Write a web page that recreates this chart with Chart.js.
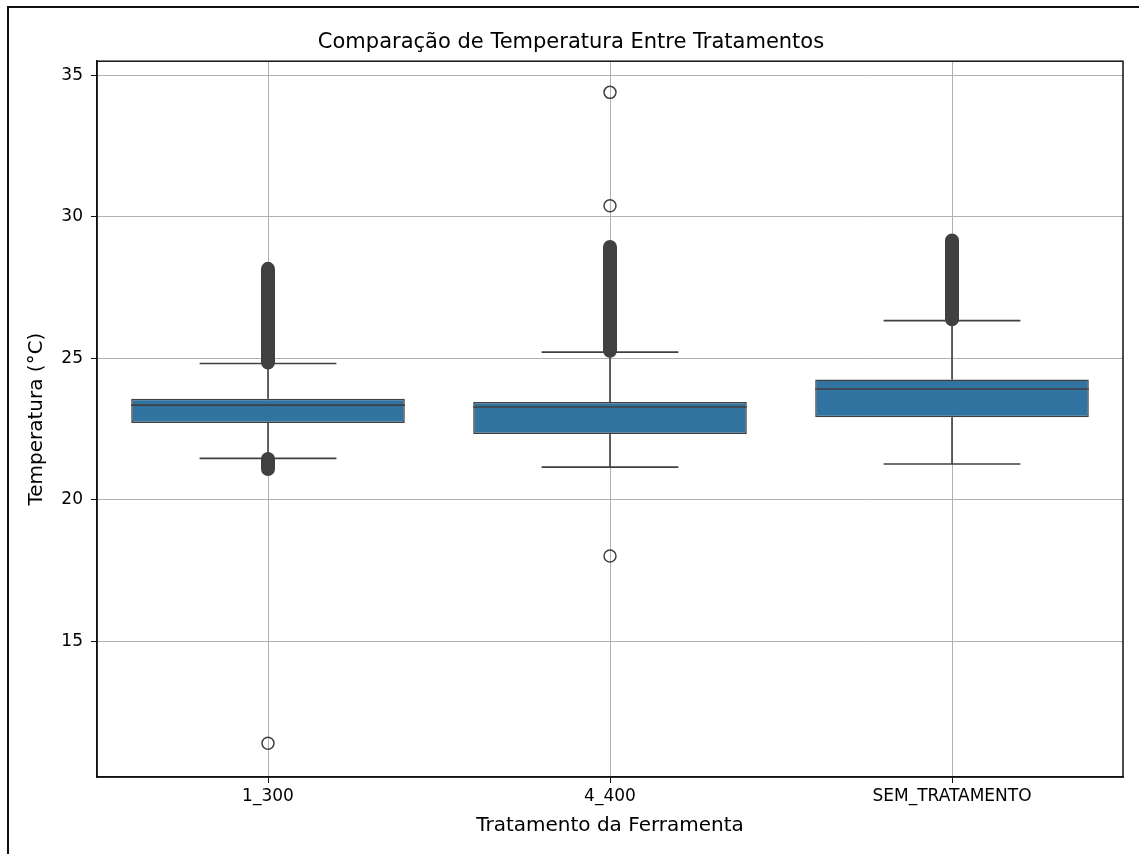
<!DOCTYPE html>
<html>
<head>
<meta charset="utf-8">
<script src="https://cdn.jsdelivr.net/npm/chart.js@4.4.1/dist/chart.umd.min.js"></script>
<style>
  body { margin: 0; background: #fff; }
  #wrap { position: relative; width: 1139px; height: 854px; overflow: hidden; }
  #frame { position: absolute; left: 7px; top: 6px; right: -10px; bottom: -10px;
           border-left: 2px solid #111; border-top: 2px solid #111; pointer-events: none; }
  canvas { position: absolute; left: 0; top: 0; }
</style>
</head>
<body>
<div id="wrap">
  <canvas id="chart" width="1139" height="854"></canvas>
  <div id="frame"></div>
</div>
<script>
"use strict";

// box plot summary per treatment
const categories = ["1_300", "4_400", "SEM_TRATAMENTO"];
const q1 = [22.72, 22.33, 22.92];
const medians = [23.35, 23.28, 23.92];
const q3 = [23.57, 23.46, 24.25];
const whisker_low = [21.47, 21.16, 21.27];
const whisker_high = [24.82, 25.22, 26.33];

// single outliers (category index, value)
const outlier_cat = [0, 1, 1, 1];
const outlier_val = [11.41, 34.39, 30.39, 18.02];

// dense runs of overlapping outliers (category index, lowest, highest)
const run_cat = [0, 0, 1, 2];
const run_low = [24.85, 21.09, 25.27, 26.38];
const run_high = [28.16, 21.45, 28.93, 29.16];

const y_ticks = [15, 20, 25, 30, 35];

const box_colour = "#3274a1";
const line_colour = "#404040";

Chart.defaults.font.family = "'DejaVu Sans', sans-serif";
Chart.defaults.color = "#000";

function gap(i) {
    return {x: i, y: null};
}

let median_pts = [];
let whisker_pts = [];
categories.forEach((c, i) => {
    median_pts.push({x: i - 0.4, y: medians[i]}, {x: i + 0.4, y: medians[i]}, gap(i));
    whisker_pts.push({x: i, y: q3[i]}, {x: i, y: whisker_high[i]}, gap(i));
    whisker_pts.push({x: i, y: q1[i]}, {x: i, y: whisker_low[i]}, gap(i));
    whisker_pts.push({x: i - 0.2, y: whisker_high[i]}, {x: i + 0.2, y: whisker_high[i]}, gap(i));
    whisker_pts.push({x: i - 0.2, y: whisker_low[i]}, {x: i + 0.2, y: whisker_low[i]}, gap(i));
});

let run_pts = [];
run_cat.forEach((c, k) => {
    run_pts.push({x: c, y: run_low[k]}, {x: c, y: run_high[k]}, gap(c));
});

let outlier_pts = outlier_cat.map((c, k) => ({x: c, y: outlier_val[k]}));

// matplotlib style spines on all four sides
const frame_plugin = {
    id: "frame_plugin",
    afterDraw(chart) {
        const a = chart.chartArea;
        const ctx = chart.ctx;
        ctx.save();
        ctx.strokeStyle = "#111";
        ctx.lineWidth = 1.5;
        ctx.strokeRect(a.left, a.top, a.right - a.left, a.bottom - a.top);
        ctx.restore();
    }
};

let ctx = document.getElementById("chart").getContext("2d");
window.box_chart = new Chart(ctx, {
    type: "line",
    data: {
        datasets: [
            {
                type: "bar",
                label: "box",
                data: categories.map((c, i) => ({x: i, y: [q1[i], q3[i]]})),
                backgroundColor: box_colour,
                borderColor: line_colour,
                borderWidth: 1.5,
                borderSkipped: false,
                barPercentage: 0.8,
                categoryPercentage: 1.0,
                grouped: false,
                order: 4
            },
            {
                label: "whiskers",
                data: whisker_pts,
                borderColor: line_colour,
                borderWidth: 1.6,
                pointRadius: 0,
                spanGaps: false,
                order: 3
            },
            {
                label: "median",
                data: median_pts,
                borderColor: line_colour,
                borderWidth: 1.6,
                pointRadius: 0,
                spanGaps: false,
                order: 1
            },
            {
                label: "outlier runs",
                data: run_pts,
                borderColor: line_colour,
                borderWidth: 14,
                borderCapStyle: "round",
                pointRadius: 0,
                spanGaps: false,
                order: 2
            },
            {
                label: "outliers",
                data: outlier_pts,
                showLine: false,
                pointRadius: 6,
                pointBorderWidth: 1.5,
                pointBorderColor: line_colour,
                pointBackgroundColor: "rgba(0,0,0,0)",
                order: 0
            }
        ]
    },
    options: {
        responsive: false,
        animation: false,
        events: [],
        devicePixelRatio: 1,
        layout: { padding: { left: 19, right: 16, top: 0, bottom: 0 } },
        plugins: {
            legend: { display: false },
            tooltip: { enabled: false },
            title: {
                display: true,
                text: "Comparação de Temperatura Entre Tratamentos",
                color: "#000",
                font: { size: 21, weight: "normal" },
                padding: { top: 30, bottom: 6 }
            }
        },
        scales: {
            x: {
                type: "linear",
                min: -0.5,
                max: 2.5,
                offset: false,
                afterBuildTicks: scale => {
                    scale.ticks = categories.map((c, i) => ({value: i}));
                },
                afterFit: scale => { scale.height = 77; },
                ticks: {
                    callback: v => categories[v],
                    font: { size: 17 },
                    color: "#000",
                    padding: 3,
                    maxRotation: 0
                },
                grid: { color: "#b0b0b0", lineWidth: 1, tickLength: 6, tickColor: "#111", offset: false },
                border: { color: "#111", width: 1.5 },
                title: {
                    display: true,
                    text: "Tratamento da Ferramenta",
                    font: { size: 20 },
                    color: "#000",
                    padding: { top: 0, bottom: 16 }
                }
            },
            y: {
                type: "linear",
                min: 10.22,
                max: 35.49,
                afterBuildTicks: scale => {
                    scale.ticks = y_ticks.map(v => ({value: v}));
                },
                afterFit: scale => { scale.width = 78; },
                ticks: { font: { size: 17 }, color: "#000", padding: 8 },
                grid: { color: "#b0b0b0", lineWidth: 1, tickLength: 6, tickColor: "#111" },
                border: { color: "#111", width: 1.5 },
                title: {
                    display: true,
                    text: "Temperatura (°C)",
                    font: { size: 20 },
                    color: "#000",
                    padding: { top: 6, bottom: 0 }
                }
            }
        }
    },
    plugins: [frame_plugin]
});
</script>
</body>
</html>
